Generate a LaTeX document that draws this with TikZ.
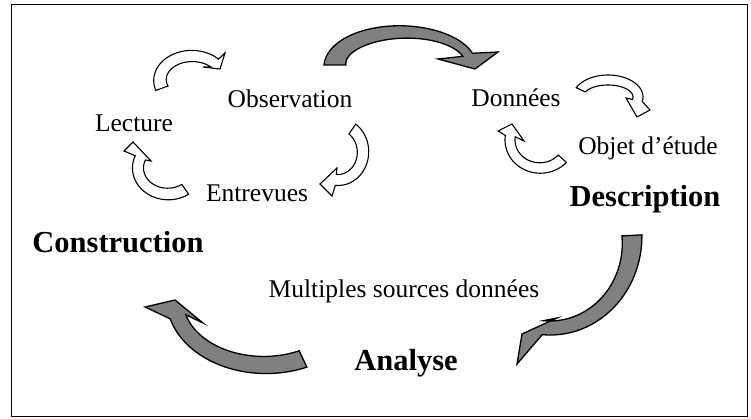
\documentclass[tikz,border=0pt]{standalone}
\usepackage{fontspec}
\setmainfont{Liberation Serif}
\definecolor{arrowgray}{RGB}{128,128,128}

% Curved block arrow: a band along an elliptical arc (centre cx,cy; radii rx,ry),
% running from angle "from" to angle "to"; its half-width goes from w0 (tail)
% to w1 (head). The head is given by three points: outer wing, tip, inner wing.
\pgfkeys{/barc/.is family,/barc,
  cx/.initial=0, cy/.initial=0, rx/.initial=10, ry/.initial=10,
  from/.initial=0, to/.initial=90, w0/.initial=5, w1/.initial=5}
\newcommand\blockarc[5]{%
  \pgfkeys{/barc,#2}%
  \pgfmathsetmacro\bcx{\pgfkeysvalueof{/barc/cx}}%
  \pgfmathsetmacro\bcy{\pgfkeysvalueof{/barc/cy}}%
  \pgfmathsetmacro\brx{\pgfkeysvalueof{/barc/rx}}%
  \pgfmathsetmacro\bry{\pgfkeysvalueof{/barc/ry}}%
  \pgfmathsetmacro\bfr{\pgfkeysvalueof{/barc/from}}%
  \pgfmathsetmacro\bto{\pgfkeysvalueof{/barc/to}}%
  \pgfmathsetmacro\bwa{\pgfkeysvalueof{/barc/w0}}%
  \pgfmathsetmacro\bwb{\pgfkeysvalueof{/barc/w1}}%
  \def\bwid{(\bwb+(\bwa-\bwb)*((\t-(\bto))/(\bfr-(\bto)))*((\t-(\bto))/(\bfr-(\bto))))}%
  \draw[#1]
    plot[variable=\t,domain=\bfr:\bto,samples=60]
      ({\bcx+(\brx+\bwid)*cos(\t)},{\bcy-(\bry+\bwid)*sin(\t)})
    -- #3 -- #4 -- #5
    -- plot[variable=\t,domain=\bto:\bfr,samples=60]
      ({\bcx+(\brx-\bwid)*cos(\t)},{\bcy-(\bry-\bwid)*sin(\t)})
    -- cycle;
}

\tikzset{
  lbl/.style={font=\fontsize{25.5}{30}\selectfont, inner sep=0pt, anchor=base},
  phase/.style={font=\bfseries\fontsize{30.5}{36}\selectfont, inner sep=0pt, anchor=base},
  grayarrow/.style={fill=arrowgray, draw=black, line width=1.3pt, line join=miter},
  whitearrow/.style={fill=white, draw=black, line width=1.1pt, line join=miter},
  frame/.style={draw=black, line width=1.6pt}
}

\begin{document}
\begin{tikzpicture}[x=1pt,y=-1pt]
  \useasboundingbox (0,0) rectangle (751,419);
  \draw[frame] (11.5,4.5) rectangle (747.5,416.5);

  % labels
  \node[lbl]   (lecture) at (134,132) {Lecture};
  \node[lbl]   (obs)     at (290,108) {Observation};
  \node[lbl]   (entrev)  at (257,202) {Entrevues};
  \node[lbl]   (donnees) at (516,107) {Données};
  \node[lbl]   (objet)   at (648,155) {Objet d’étude};
  \node[phase] (descr)   at (645,207) {Description};
  \node[phase] (constr)  at (118,253) {Construction};
  \node[lbl]   (multi)   at (404,297) {Multiples sources données};
  \node[phase] (analyse) at (406,370) {Analyse};

  % big grey arrows of the main cycle
  \blockarc{grayarrow}{cx=403,cy=65,rx=68,ry=33,from=180,to=18,w0=11,w1=5}
    {(498,52)}{(475,69)}{(438,59)}
  \blockarc{grayarrow}{cx=550,cy=240,rx=82,ry=88,from=3,to=-95,w0=10,w1=7}
    {(517,364)}{(522,334)}{(557,318)}
  \blockarc{grayarrow}{cx=265,cy=300,rx=90,ry=65,from=-65,to=-165,w0=9,w1=8}
    {(145,307)}{(175,300)}{(203,323)}

  % small white arrows of the inner cycles
  \blockarc{whitearrow}{cx=192,cy=80,rx=32,ry=24,from=200,to=45,w0=6.5,w1=5.5}
    {(225,53)}{(220,69)}{(203,67)}
  \blockarc{whitearrow}{cx=338,cy=152,rx=25,ry=28,from=55,to=-95,w0=6,w1=5.5}
    {(332,196)}{(320,184)}{(337,168)}
  \blockarc{whitearrow}{cx=168,cy=168,rx=30,ry=26,from=-55,to=-203,w0=6,w1=5.5}
    {(124,151)}{(133,142)}{(151,161)}
  \blockarc{whitearrow}{cx=608,cy=97,rx=30,ry=17,from=155,to=-12,w0=5,w1=5}
    {(650,110)}{(637,117)}{(626,98)}
  \blockarc{whitearrow}{cx=540,cy=140,rx=30,ry=28,from=-42,to=-188,w0=5.5,w1=5}
    {(498,131)}{(512,124)}{(524,141)}
\end{tikzpicture}
\end{document}
